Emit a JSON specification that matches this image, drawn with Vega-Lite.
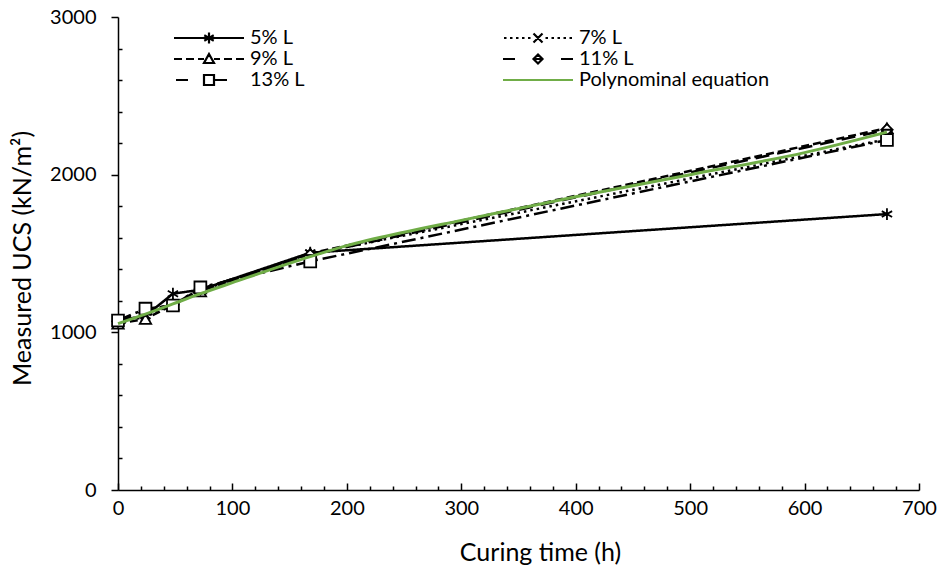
{
  "$schema": "https://vega.github.io/schema/vega-lite/v6.json",
  "width": 801,
  "height": 473,
  "autosize": {"type": "none"},
  "padding": {"left": 118, "top": 17, "right": 25, "bottom": 86},
  "background": "white",
  "config": {
    "view": {"stroke": null},
    "font": "Lato",
    "axis": {"grid": false, "domainColor": "black", "domainWidth": 1.5, "tickColor": "black", "tickWidth": 1.5, "labelColor": "black", "titleColor": "black", "labelFont": "Lato", "titleFont": "Lato", "labelFontSize": 20, "titleFontSize": 25, "titleFontWeight": "normal"},
    "legend": {"labelFont": "Lato", "labelFontSize": 20, "labelColor": "black", "labelLimit": 400}
  },
  "data": {"values": [
    {"series": "5% L", "t": 0, "ucs": 1075},
    {"series": "5% L", "t": 24, "ucs": 1105},
    {"series": "5% L", "t": 48, "ucs": 1245},
    {"series": "5% L", "t": 72, "ucs": 1270},
    {"series": "5% L", "t": 168, "ucs": 1505},
    {"series": "5% L", "t": 672, "ucs": 1750},
    {"series": "7% L", "t": 0, "ucs": 1060},
    {"series": "7% L", "t": 24, "ucs": 1100},
    {"series": "7% L", "t": 48, "ucs": 1180},
    {"series": "7% L", "t": 72, "ucs": 1265},
    {"series": "7% L", "t": 168, "ucs": 1495},
    {"series": "7% L", "t": 672, "ucs": 2225},
    {"series": "9% L", "t": 0, "ucs": 1055},
    {"series": "9% L", "t": 24, "ucs": 1085},
    {"series": "9% L", "t": 48, "ucs": 1175},
    {"series": "9% L", "t": 72, "ucs": 1260},
    {"series": "9% L", "t": 168, "ucs": 1500},
    {"series": "9% L", "t": 672, "ucs": 2295},
    {"series": "11% L", "t": 0, "ucs": 1070},
    {"series": "11% L", "t": 24, "ucs": 1140},
    {"series": "11% L", "t": 48, "ucs": 1175},
    {"series": "11% L", "t": 72, "ucs": 1275},
    {"series": "11% L", "t": 168, "ucs": 1490},
    {"series": "11% L", "t": 672, "ucs": 2285},
    {"series": "13% L", "t": 0, "ucs": 1075},
    {"series": "13% L", "t": 24, "ucs": 1150},
    {"series": "13% L", "t": 48, "ucs": 1170},
    {"series": "13% L", "t": 72, "ucs": 1285},
    {"series": "13% L", "t": 168, "ucs": 1450},
    {"series": "13% L", "t": 672, "ucs": 2220},
    {"series": "Polynominal equation", "t": 0, "ucs": 1055},
    {"series": "Polynominal equation", "t": 24, "ucs": 1115},
    {"series": "Polynominal equation", "t": 48, "ucs": 1180},
    {"series": "Polynominal equation", "t": 72, "ucs": 1245},
    {"series": "Polynominal equation", "t": 100, "ucs": 1315},
    {"series": "Polynominal equation", "t": 168, "ucs": 1480},
    {"series": "Polynominal equation", "t": 200, "ucs": 1550},
    {"series": "Polynominal equation", "t": 250, "ucs": 1635},
    {"series": "Polynominal equation", "t": 300, "ucs": 1710},
    {"series": "Polynominal equation", "t": 400, "ucs": 1860},
    {"series": "Polynominal equation", "t": 500, "ucs": 2000},
    {"series": "Polynominal equation", "t": 600, "ucs": 2140},
    {"series": "Polynominal equation", "t": 672, "ucs": 2270}
  ]},
  "encoding": {
    "x": {"field": "t", "type": "quantitative", "scale": {"domain": [0, 700], "nice": false},
      "axis": {"title": "Curing time (h)", "values": [0,20,40,60,80,100,120,140,160,180,200,220,240,260,280,300,320,340,360,380,400,420,440,460,480,500,520,540,560,580,600,620,640,660,680,700],
        "labelExpr": "datum.value % 100 === 0 ? datum.label : ''",
        "tickSize": {"condition": {"test": "datum.value % 100 === 0", "value": -7}, "value": -4},
        "labelPadding": 15, "titlePadding": 19, "titleX": 422, "labelFlush": false, "labelOverlap": false}},
    "y": {"field": "ucs", "type": "quantitative", "scale": {"domain": [0, 3000], "nice": false},
      "axis": {"title": "Measured UCS (kN/m²)", "values": [0,200,400,600,800,1000,1200,1400,1600,1800,2000,2200,2400,2600,2800,3000],
        "labelExpr": "datum.value % 1000 === 0 ? datum.label : ''",
        "tickSize": {"condition": {"test": "datum.value % 1000 === 0", "value": 7}, "value": -4},
        "format": "d", "labelPadding": 15, "titlePadding": 14, "titleY": 241, "labelFlush": false, "labelOverlap": false}}
  },
  "layer": [
    {
      "transform": [{"filter": "datum.series !== 'Polynominal equation'"}],
      "mark": {"type": "line", "color": "black", "strokeWidth": 2.5},
      "encoding": {
        "strokeDash": {"field": "series", "type": "nominal",
          "scale": {"domain": ["5% L", "7% L", "9% L", "11% L", "13% L"], "range": [[1, 0], [2.5, 4], [8, 4], [14, 8], [14, 5, 3, 5]]},
          "legend": null}
      }
    },
    {
      "transform": [{"filter": "datum.series === '5% L'"}],
      "mark": {"type": "point", "shape": "M0,-1V1M-0.87,-0.5L0.87,0.5M-0.87,0.5L0.87,-0.5", "filled": false, "stroke": "black", "strokeWidth": 1.8, "size": 140, "opacity": 1}
    },
    {
      "transform": [{"filter": "datum.series === '7% L'"}],
      "mark": {"type": "point", "shape": "M-0.75,-0.75L0.75,0.75M-0.75,0.75L0.75,-0.75", "filled": false, "stroke": "black", "strokeWidth": 1.8, "size": 140, "opacity": 1}
    },
    {
      "transform": [{"filter": "datum.series === '9% L'"}],
      "mark": {"type": "point", "shape": "triangle-up", "filled": true, "fill": "white", "stroke": "black", "strokeWidth": 1.8, "size": 130, "opacity": 1}
    },
    {
      "transform": [{"filter": "datum.series === '11% L'"}],
      "mark": {"type": "point", "shape": "M0,-1L1,0L0,1L-1,0ZM-1,0H1", "filled": true, "fill": "white", "stroke": "black", "strokeWidth": 1.8, "size": 130, "opacity": 1}
    },
    {
      "transform": [{"filter": "datum.series === '13% L'"}],
      "mark": {"type": "point", "shape": "square", "filled": true, "fill": "white", "stroke": "black", "strokeWidth": 1.8, "size": 140, "opacity": 1}
    },
    {
      "transform": [{"filter": "datum.series === 'Polynominal equation'"}],
      "mark": {"type": "line", "color": "#70AD47", "strokeWidth": 3, "interpolate": "monotone"},
      "encoding": {}
    },
    {
      "mark": {"type": "point", "filled": false, "opacity": 0, "size": 100},
      "encoding": {
        "shape": {"field": "series", "type": "nominal",
          "scale": {"domain": ["5% L", "7% L", "9% L", "11% L", "13% L", "Polynominal equation"],
            "range": [
              "M-7,0H7M0,-1.1V1.1M-0.95,-0.55L0.95,0.55M-0.95,0.55L0.95,-0.55",
              "M-6.8,0h0.5M-5.6,0h0.5M-4.4,0h0.5M-3.2,0h0.5M-2,0h0.5M-0.9,-0.9L0.9,0.9M-0.9,0.9L0.9,-0.9M1.5,0h0.5M2.7,0h0.5M3.9,0h0.5M5.1,0h0.5M6.3,0h0.5",
              "M-7,0H-5.4M-4.6,0H-3M-2.2,0H-1M1,0H2.2M3,0H4.6M5.4,0H7M0,-1L1,0.8L-1,0.8Z",
              "M-7,0H-4.6M4.6,0H7M0,-0.9L0.9,0L0,0.9L-0.9,0ZM-0.9,0H0.9",
              "M-6.6,0H-4.2M1,0H3.6M-1,-1H1V1H-1Z",
              "M-7,0H7"
            ]},
          "legend": {"title": null, "orient": "none", "direction": "horizontal", "legendX": 81, "legendY": 11, "columns": 2, "columnPadding": 193, "rowPadding": 1,
            "labelOffset": 31, "symbolSize": 100, "symbolStrokeWidth": 2.2, "symbolOpacity": 1}},
        "stroke": {"field": "series", "type": "nominal",
          "scale": {"domain": ["5% L", "7% L", "9% L", "11% L", "13% L", "Polynominal equation"], "range": ["black", "black", "black", "black", "black", "#70AD47"]},
          "legend": {"title": null, "orient": "none", "direction": "horizontal", "legendX": 81, "legendY": 11, "columns": 2, "columnPadding": 193, "rowPadding": 1,
            "labelOffset": 31, "symbolSize": 100, "symbolStrokeWidth": 2.2, "symbolOpacity": 1}}
      }
    }
  ]
}
